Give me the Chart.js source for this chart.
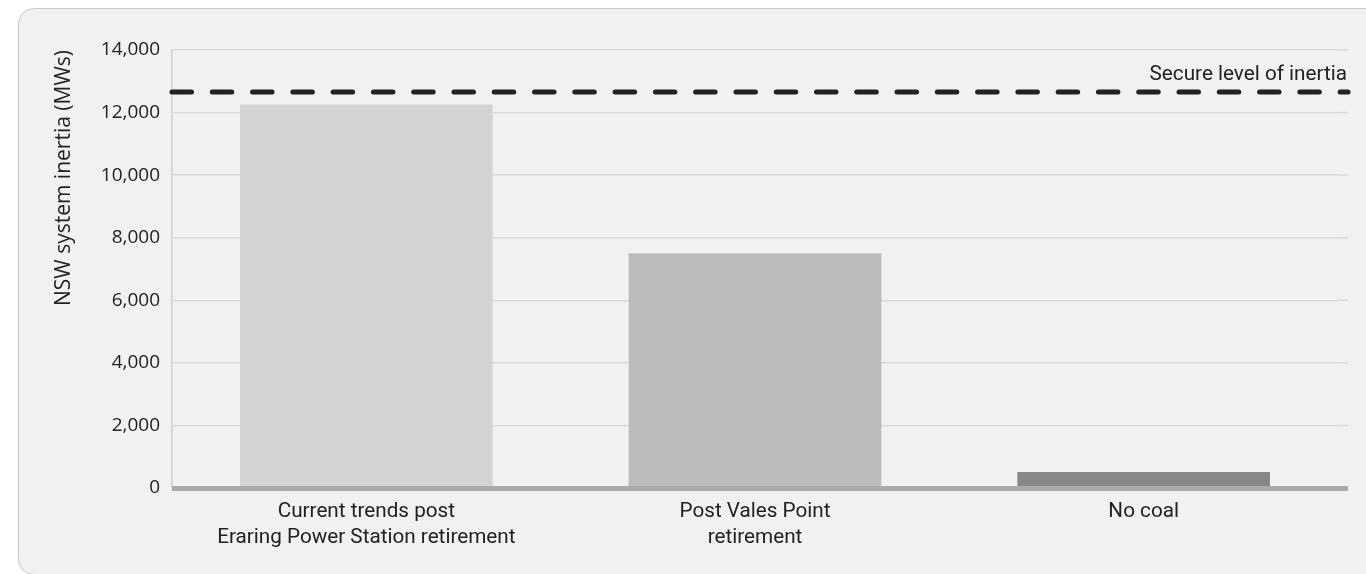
<!DOCTYPE html>
<html><head><meta charset="utf-8">
<script src="https://cdn.jsdelivr.net/npm/chart.js@4"></script>
<style>
html,body{margin:0;padding:0;background:#fff;width:1366px;height:574px;overflow:hidden}
#card{position:absolute;left:18px;top:8px;width:1400px;height:567px;background:#f1f1f1;border:1px solid #c9c9c9;border-radius:16px;box-sizing:border-box}
#wrap{position:absolute;left:0;top:0;width:1366px;height:574px}
</style></head><body>
<div id="card"></div>
<div id="wrap"><canvas id="c" width="1366" height="574"></canvas></div>
<script>
const categories = [["Current trends post", "Eraring Power Station retirement"], ["Post Vales Point", "retirement"], ["No coal"]];
const inertiaValues = [12260, 7500, 510];
const barColors = ["#d3d3d3", "#bbbbbb", "#878787"];
const secureLevel = 12660;
const secureLabel = "Secure level of inertia";
const yAxisTitle = "NSW system inertia (MWs)";
const yMin = 0, yMax = 14000, yStep = 2000;

const EXT_RIGHT = 1348;
const TEXT = "#222222";

const extras = {
  id: "extras",
  beforeDatasetsDraw(chart) {
    const { ctx, chartArea: a, scales: { y } } = chart;
    ctx.save();
    ctx.strokeStyle = "#d9d9d9";
    ctx.lineWidth = 1.5;
    y.ticks.forEach(t => {
      const py = y.getPixelForValue(t.value);
      ctx.beginPath(); ctx.moveTo(a.right, py); ctx.lineTo(EXT_RIGHT, py); ctx.stroke();
    });
    ctx.restore();
  },
  afterDatasetsDraw(chart) {
    const { ctx, chartArea: a, scales: { y } } = chart;
    ctx.save();
    const y0 = y.getPixelForValue(0);
    ctx.strokeStyle = "#aaaaaa";
    ctx.lineWidth = 5;
    ctx.beginPath(); ctx.moveTo(a.left, y0 + 0.5); ctx.lineTo(EXT_RIGHT, y0 + 0.5); ctx.stroke();
    const ys = y.getPixelForValue(secureLevel);
    ctx.strokeStyle = "#222222";
    ctx.lineWidth = 5;
    ctx.lineCap = "round";
    ctx.setLineDash([19.5, 20.78]);
    ctx.beginPath(); ctx.moveTo(a.left, ys); ctx.lineTo(EXT_RIGHT, ys); ctx.stroke();
    ctx.setLineDash([]);
    ctx.fillStyle = TEXT;
    ctx.font = "20.7px Roboto";
    ctx.textAlign = "right";
    ctx.textBaseline = "alphabetic";
    ctx.fillText(secureLabel, EXT_RIGHT - 1, ys - 12);
    ctx.restore();
  }
};

new Chart(document.getElementById("c"), {
  type: "bar",
  data: {
    labels: categories,
    datasets: [{
      data: inertiaValues,
      backgroundColor: barColors,
      borderWidth: 0,
      barPercentage: 0.65,
      categoryPercentage: 1
    }]
  },
  options: {
    responsive: false,
    animation: false,
    events: [],
    layout: { padding: { left: 48, right: 28, top: 50, bottom: 0 } },
    plugins: { legend: { display: false }, tooltip: { enabled: false }, title: { display: false } },
    scales: {
      x: {
        grid: { display: false, drawTicks: false },
        border: { display: false },
        ticks: { color: TEXT, font: { family: "Roboto", size: 20.7, lineHeight: 1.25 }, padding: 11, maxRotation: 0, autoSkip: false },
        afterFit(s) { s.height = 86; }
      },
      y: {
        min: yMin, max: yMax,
        grid: { color: "#d9d9d9", lineWidth: 1.5, drawTicks: false },
        border: { display: true, color: "#d0d0d0", width: 1.5 },
        ticks: {
          stepSize: yStep, color: TEXT, padding: 12,
          font: { family: "Open Sans", size: 19 },
          callback: v => v.toLocaleString("en-US")
        },
        title: { display: true, text: yAxisTitle, align: "end", color: TEXT, font: { family: "Open Sans", size: 21 }, padding: { top: 3, bottom: 0 } },
        afterFit(s) { s.width = 124; }
      }
    }
  },
  plugins: [extras]
});
</script>
</body></html>
